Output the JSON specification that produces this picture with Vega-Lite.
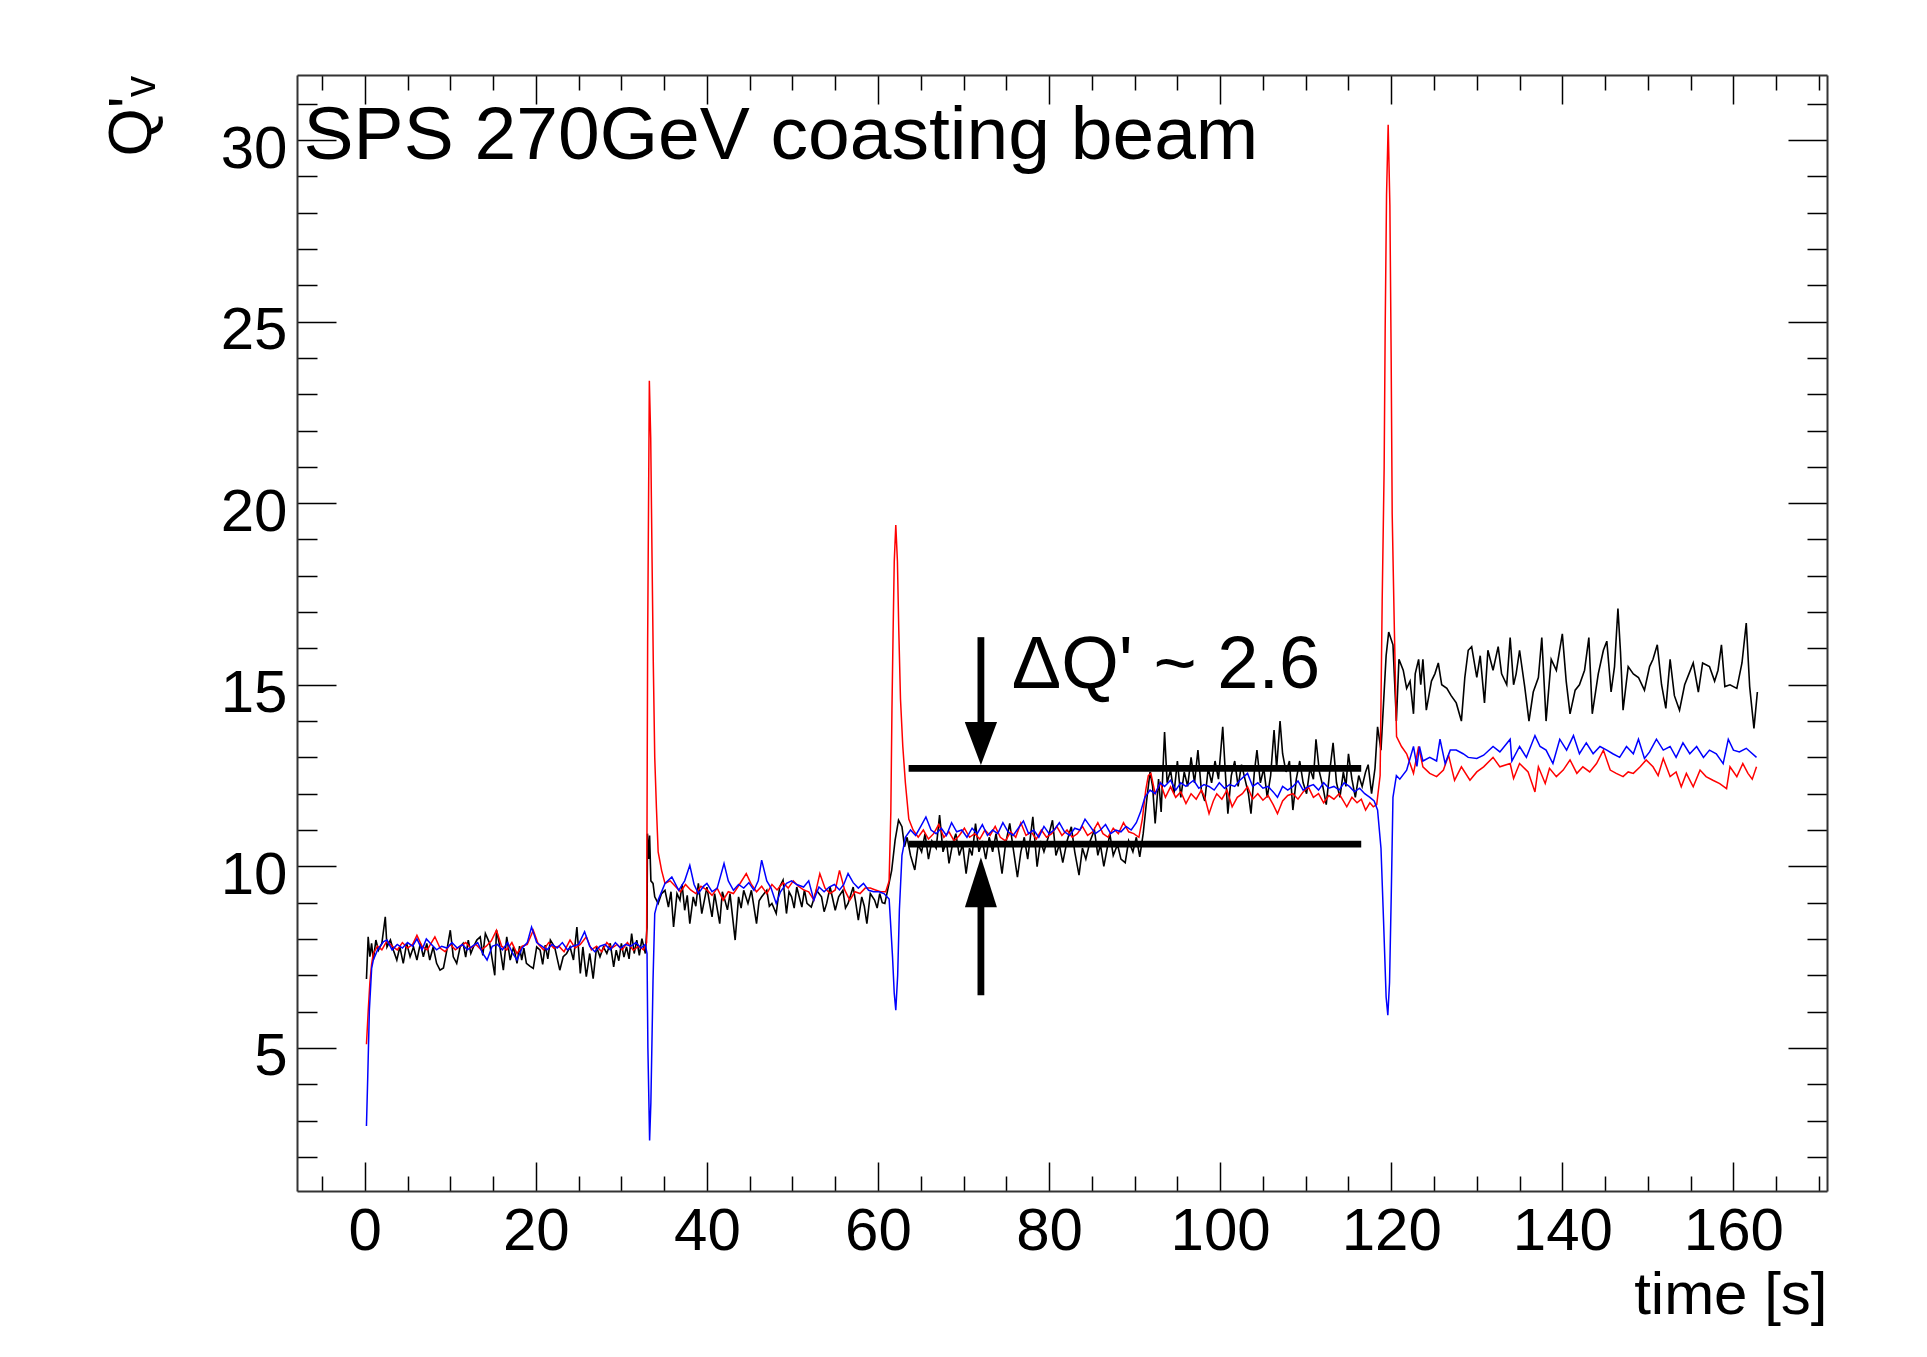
{
"$schema": "https://vega.github.io/schema/vega-lite/v6.json",
"width": 1530, "height": 1116,
"autosize": {"type": "none"},
"padding": {"left": 297, "top": 75, "right": 100, "bottom": 166},
"background": "white",
"config": {"view": {"stroke": null}, "font": "Liberation Sans"},
"datasets": {
"k": [{"t":0.2,"q":6.9},{"t":0.4,"q":8.06},{"t":0.6,"q":7.51},{"t":0.8,"q":7.88},{"t":1.0,"q":7.42},{"t":1.3,"q":7.97},{"t":1.6,"q":7.69},{"t":2.0,"q":7.88},{"t":2.4,"q":8.61},{"t":2.6,"q":7.78},{"t":3.0,"q":7.97},{"t":3.35,"q":7.69},{"t":3.75,"q":7.42},{"t":4.1,"q":7.78},{"t":4.5,"q":7.33},{"t":4.9,"q":7.88},{"t":5.3,"q":7.51},{"t":5.7,"q":7.78},{"t":6.1,"q":7.42},{"t":6.5,"q":7.88},{"t":6.85,"q":7.51},{"t":7.25,"q":7.88},{"t":7.6,"q":7.42},{"t":8.0,"q":7.78},{"t":8.4,"q":7.33},{"t":8.8,"q":7.14},{"t":9.2,"q":7.2},{"t":9.6,"q":7.69},{"t":10.0,"q":8.24},{"t":10.35,"q":7.51},{"t":10.75,"q":7.33},{"t":11.15,"q":7.78},{"t":11.5,"q":7.88},{"t":11.8,"q":7.5},{"t":12.1,"q":7.97},{"t":12.4,"q":7.6},{"t":12.7,"q":7.78},{"t":13.1,"q":7.97},{"t":13.5,"q":8.06},{"t":13.8,"q":7.55},{"t":14.1,"q":8.15},{"t":14.6,"q":7.88},{"t":15.2,"q":7.0},{"t":15.4,"q":8.24},{"t":15.8,"q":7.78},{"t":16.2,"q":7.14},{"t":16.6,"q":8.06},{"t":17.0,"q":7.42},{"t":17.4,"q":7.78},{"t":17.8,"q":7.33},{"t":18.1,"q":7.8},{"t":18.35,"q":7.42},{"t":18.6,"q":7.75},{"t":18.9,"q":7.33},{"t":19.3,"q":7.25},{"t":19.7,"q":7.19},{"t":20.1,"q":7.78},{"t":20.5,"q":7.69},{"t":20.8,"q":7.3},{"t":21.1,"q":7.83},{"t":21.4,"q":7.45},{"t":21.7,"q":7.97},{"t":22.2,"q":7.78},{"t":22.8,"q":7.14},{"t":23.2,"q":7.51},{"t":23.6,"q":7.6},{"t":24.0,"q":7.78},{"t":24.4,"q":7.42},{"t":24.8,"q":8.33},{"t":25.2,"q":7.05},{"t":25.5,"q":7.78},{"t":25.9,"q":6.96},{"t":26.3,"q":7.6},{"t":26.7,"q":6.91},{"t":27.1,"q":7.78},{"t":27.5,"q":7.51},{"t":27.9,"q":7.78},{"t":28.3,"q":7.6},{"t":28.7,"q":7.88},{"t":29.1,"q":7.23},{"t":29.4,"q":7.69},{"t":29.7,"q":7.4},{"t":30.0,"q":7.88},{"t":30.3,"q":7.5},{"t":30.6,"q":7.78},{"t":30.9,"q":7.45},{"t":31.2,"q":8.15},{"t":31.5,"q":7.6},{"t":31.8,"q":7.97},{"t":32.1,"q":7.55},{"t":32.4,"q":8.01},{"t":32.8,"q":7.6},{"t":33.0,"q":8.33},{"t":33.05,"q":10.9},{"t":33.2,"q":10.2},{"t":33.3,"q":10.85},{"t":33.45,"q":9.6},{"t":33.7,"q":9.53},{"t":33.9,"q":9.16},{"t":34.3,"q":8.98},{"t":34.7,"q":9.25},{"t":35.1,"q":9.34},{"t":35.5,"q":8.88},{"t":35.8,"q":9.3},{"t":36.1,"q":8.33},{"t":36.5,"q":9.25},{"t":36.85,"q":9.07},{"t":37.1,"q":9.5},{"t":37.4,"q":8.79},{"t":37.7,"q":9.2},{"t":38.0,"q":8.42},{"t":38.4,"q":9.16},{"t":38.7,"q":8.9},{"t":39.0,"q":9.53},{"t":39.4,"q":8.7},{"t":40.0,"q":9.43},{"t":40.3,"q":9.0},{"t":40.6,"q":8.61},{"t":40.9,"q":9.25},{"t":41.5,"q":8.42},{"t":41.8,"q":9.3},{"t":42.1,"q":9.07},{"t":42.4,"q":8.8},{"t":42.7,"q":9.25},{"t":43.3,"q":7.97},{"t":43.7,"q":9.16},{"t":44.0,"q":8.85},{"t":44.3,"q":9.34},{"t":44.8,"q":8.98},{"t":45.2,"q":9.34},{"t":45.8,"q":8.42},{"t":46.1,"q":9.05},{"t":46.4,"q":9.16},{"t":47.0,"q":9.34},{"t":47.3,"q":8.9},{"t":47.6,"q":8.98},{"t":48.1,"q":8.7},{"t":48.5,"q":9.43},{"t":48.9,"q":9.62},{"t":49.3,"q":8.7},{"t":49.6,"q":9.3},{"t":49.9,"q":9.16},{"t":50.2,"q":8.85},{"t":50.5,"q":9.43},{"t":51.1,"q":8.88},{"t":51.4,"q":9.35},{"t":51.7,"q":8.98},{"t":52.2,"q":8.88},{"t":52.5,"q":9.1},{"t":52.8,"q":9.34},{"t":53.4,"q":9.16},{"t":53.7,"q":8.75},{"t":54.0,"q":8.98},{"t":54.4,"q":9.43},{"t":55.0,"q":8.79},{"t":55.4,"q":9.16},{"t":55.9,"q":9.34},{"t":56.2,"q":8.85},{"t":56.5,"q":8.98},{"t":57.1,"q":9.43},{"t":57.4,"q":9.0},{"t":57.7,"q":8.52},{"t":58.1,"q":9.16},{"t":58.4,"q":8.9},{"t":58.7,"q":8.42},{"t":59.1,"q":9.25},{"t":59.6,"q":9.07},{"t":59.9,"q":8.85},{"t":60.2,"q":9.25},{"t":60.5,"q":9.0},{"t":60.8,"q":8.98},{"t":61.2,"q":9.43},{"t":61.6,"q":9.89},{"t":62.0,"q":10.72},{"t":62.4,"q":11.27},{"t":62.8,"q":11.09},{"t":63.1,"q":10.54},{"t":63.4,"q":10.8},{"t":63.8,"q":10.3},{"t":64.3,"q":9.9},{"t":64.7,"q":10.6},{"t":65.1,"q":10.4},{"t":65.5,"q":10.9},{"t":65.9,"q":10.2},{"t":66.3,"q":10.7},{"t":66.8,"q":10.5},{"t":67.2,"q":11.41},{"t":67.6,"q":10.4},{"t":68.0,"q":10.7},{"t":68.3,"q":10.08},{"t":68.7,"q":10.6},{"t":69.1,"q":10.9},{"t":69.5,"q":10.3},{"t":69.9,"q":10.6},{"t":70.3,"q":9.8},{"t":70.7,"q":10.5},{"t":71.0,"q":10.3},{"t":71.4,"q":11.18},{"t":71.8,"q":10.4},{"t":72.2,"q":10.7},{"t":72.6,"q":10.2},{"t":73.0,"q":10.8},{"t":73.4,"q":10.4},{"t":73.8,"q":10.9},{"t":74.2,"q":10.3},{"t":74.5,"q":9.8},{"t":74.9,"q":10.6},{"t":75.4,"q":11.18},{"t":75.8,"q":10.5},{"t":76.3,"q":9.7},{"t":76.7,"q":10.4},{"t":77.1,"q":10.8},{"t":77.5,"q":10.2},{"t":78.1,"q":11.36},{"t":78.6,"q":9.99},{"t":79.0,"q":10.7},{"t":79.4,"q":10.4},{"t":79.9,"q":10.8},{"t":80.4,"q":11.27},{"t":80.8,"q":10.3},{"t":81.2,"q":10.6},{"t":81.6,"q":10.1},{"t":82.1,"q":10.7},{"t":82.6,"q":11.09},{"t":83.0,"q":10.4},{"t":83.5,"q":9.76},{"t":83.9,"q":10.5},{"t":84.3,"q":10.2},{"t":84.8,"q":10.7},{"t":85.3,"q":11.0},{"t":85.7,"q":10.3},{"t":86.0,"q":10.6},{"t":86.4,"q":10.0},{"t":86.8,"q":10.5},{"t":87.1,"q":10.9},{"t":87.5,"q":10.3},{"t":88.0,"q":10.6},{"t":88.4,"q":10.2},{"t":88.9,"q":10.1},{"t":89.3,"q":10.7},{"t":89.8,"q":10.4},{"t":90.2,"q":10.8},{"t":90.6,"q":10.26},{"t":91.0,"q":10.9},{"t":91.4,"q":11.8},{"t":91.8,"q":12.6},{"t":92.1,"q":12.2},{"t":92.4,"q":11.18},{"t":92.8,"q":12.4},{"t":93.1,"q":11.5},{"t":93.5,"q":13.7},{"t":93.8,"q":12.3},{"t":94.2,"q":12.65},{"t":94.6,"q":12.0},{"t":95.0,"q":12.9},{"t":95.4,"q":11.9},{"t":95.8,"q":12.6},{"t":96.2,"q":12.2},{"t":96.6,"q":13.0},{"t":97.0,"q":12.3},{"t":97.4,"q":13.2},{"t":97.8,"q":12.1},{"t":98.2,"q":11.8},{"t":98.6,"q":12.7},{"t":99.0,"q":12.3},{"t":99.4,"q":12.9},{"t":99.8,"q":12.4},{"t":100.3,"q":13.84},{"t":100.6,"q":12.6},{"t":100.9,"q":11.45},{"t":101.3,"q":12.5},{"t":101.7,"q":12.9},{"t":102.1,"q":12.2},{"t":102.5,"q":12.8},{"t":102.9,"q":12.4},{"t":103.3,"q":12.0},{"t":103.6,"q":11.45},{"t":104.0,"q":12.6},{"t":104.3,"q":13.2},{"t":104.7,"q":12.3},{"t":105.1,"q":12.7},{"t":105.5,"q":11.9},{"t":105.9,"q":12.5},{"t":106.3,"q":13.75},{"t":106.6,"q":12.7},{"t":107.0,"q":14.0},{"t":107.3,"q":13.1},{"t":107.7,"q":12.6},{"t":108.1,"q":12.9},{"t":108.5,"q":11.55},{"t":108.9,"q":12.4},{"t":109.3,"q":12.9},{"t":109.7,"q":12.3},{"t":110.1,"q":12.0},{"t":110.5,"q":12.7},{"t":110.9,"q":12.4},{"t":111.2,"q":13.5},{"t":111.6,"q":12.6},{"t":112.0,"q":12.2},{"t":112.4,"q":11.7},{"t":112.8,"q":12.6},{"t":113.2,"q":13.4},{"t":113.6,"q":12.3},{"t":114.0,"q":11.9},{"t":114.4,"q":12.6},{"t":114.7,"q":12.2},{"t":115.0,"q":13.1},{"t":115.4,"q":12.4},{"t":115.8,"q":11.9},{"t":116.2,"q":12.5},{"t":116.6,"q":12.2},{"t":117.0,"q":12.6},{"t":117.3,"q":12.8},{"t":117.7,"q":12.0},{"t":118.1,"q":12.7},{"t":118.4,"q":13.84},{"t":118.8,"q":13.2},{"t":119.1,"q":14.5},{"t":119.4,"q":15.8},{"t":119.7,"q":16.45},{"t":120.2,"q":16.1},{"t":120.6,"q":14.0},{"t":120.9,"q":15.7},{"t":121.4,"q":15.4},{"t":121.8,"q":14.9},{"t":122.2,"q":15.1},{"t":122.6,"q":14.2},{"t":122.8,"q":15.3},{"t":123.2,"q":15.7},{"t":123.45,"q":15.0},{"t":123.7,"q":15.7},{"t":124.1,"q":14.3},{"t":124.7,"q":15.1},{"t":125.1,"q":15.3},{"t":125.5,"q":15.6},{"t":125.9,"q":15.0},{"t":126.5,"q":14.9},{"t":127.0,"q":14.7},{"t":127.6,"q":14.5},{"t":128.2,"q":14.0},{"t":128.6,"q":15.2},{"t":129.0,"q":15.95},{"t":129.4,"q":16.05},{"t":130.0,"q":15.2},{"t":130.4,"q":15.8},{"t":130.9,"q":14.5},{"t":131.3,"q":15.95},{"t":131.9,"q":15.4},{"t":132.5,"q":16.05},{"t":132.9,"q":15.3},{"t":133.5,"q":15.0},{"t":133.9,"q":16.3},{"t":134.3,"q":15.0},{"t":134.6,"q":15.3},{"t":135.0,"q":15.95},{"t":135.6,"q":14.95},{"t":136.1,"q":14.0},{"t":136.6,"q":14.8},{"t":137.2,"q":15.2},{"t":137.6,"q":16.3},{"t":138.1,"q":14.0},{"t":138.7,"q":15.7},{"t":139.3,"q":15.4},{"t":140.0,"q":16.4},{"t":140.45,"q":15.1},{"t":140.9,"q":14.2},{"t":141.5,"q":14.85},{"t":142.0,"q":15.0},{"t":142.6,"q":15.4},{"t":143.1,"q":16.3},{"t":143.5,"q":14.2},{"t":144.2,"q":15.3},{"t":144.8,"q":15.95},{"t":145.2,"q":16.2},{"t":145.7,"q":14.8},{"t":146.1,"q":15.5},{"t":146.5,"q":17.1},{"t":146.8,"q":15.9},{"t":147.1,"q":14.3},{"t":147.7,"q":15.5},{"t":148.3,"q":15.3},{"t":148.9,"q":15.2},{"t":149.6,"q":14.85},{"t":150.2,"q":15.5},{"t":150.6,"q":15.7},{"t":151.1,"q":16.1},{"t":151.6,"q":15.0},{"t":152.1,"q":14.35},{"t":152.6,"q":15.7},{"t":153.1,"q":14.7},{"t":153.7,"q":14.3},{"t":154.3,"q":15.0},{"t":154.8,"q":15.3},{"t":155.3,"q":15.6},{"t":155.9,"q":14.8},{"t":156.4,"q":15.6},{"t":157.2,"q":15.5},{"t":157.8,"q":15.1},{"t":158.2,"q":15.4},{"t":158.6,"q":16.1},{"t":159.0,"q":14.95},{"t":159.6,"q":15.0},{"t":160.4,"q":14.9},{"t":161.0,"q":15.6},{"t":161.5,"q":16.7},{"t":161.9,"q":14.95},{"t":162.4,"q":13.8},{"t":162.8,"q":14.8}],
"r": [{"t":0.2,"q":5.1},{"t":0.4,"q":6.0},{"t":0.6,"q":6.8},{"t":0.8,"q":7.3},{"t":1.0,"q":7.6},{"t":1.5,"q":7.8},{"t":2.0,"q":7.7},{"t":2.6,"q":7.95},{"t":3.2,"q":7.8},{"t":3.8,"q":7.7},{"t":4.4,"q":7.9},{"t":5.0,"q":7.75},{"t":5.6,"q":7.85},{"t":6.1,"q":8.1},{"t":6.7,"q":7.8},{"t":7.3,"q":7.7},{"t":7.8,"q":7.9},{"t":8.2,"q":8.06},{"t":8.8,"q":7.75},{"t":9.4,"q":7.65},{"t":10.0,"q":7.85},{"t":10.6,"q":7.7},{"t":11.2,"q":7.8},{"t":11.8,"q":7.9},{"t":12.4,"q":7.75},{"t":13.0,"q":7.85},{"t":13.6,"q":7.7},{"t":14.2,"q":7.8},{"t":14.8,"q":7.95},{"t":15.4,"q":8.24},{"t":16.0,"q":7.8},{"t":16.6,"q":7.7},{"t":17.2,"q":7.9},{"t":17.8,"q":7.6},{"t":18.4,"q":7.8},{"t":19.0,"q":7.85},{"t":19.7,"q":8.24},{"t":20.3,"q":7.85},{"t":20.9,"q":7.7},{"t":21.5,"q":7.9},{"t":22.1,"q":7.75},{"t":22.7,"q":7.8},{"t":23.3,"q":7.65},{"t":24.0,"q":7.97},{"t":24.6,"q":7.75},{"t":25.2,"q":7.85},{"t":25.9,"q":8.06},{"t":26.5,"q":7.7},{"t":27.1,"q":7.8},{"t":27.7,"q":7.65},{"t":28.3,"q":7.9},{"t":28.9,"q":7.75},{"t":29.5,"q":7.85},{"t":30.1,"q":7.7},{"t":30.7,"q":7.9},{"t":31.4,"q":7.69},{"t":32.0,"q":7.8},{"t":32.6,"q":7.7},{"t":32.95,"q":7.9},{"t":33.07,"q":16.15},{"t":33.27,"q":23.37},{"t":33.43,"q":21.8},{"t":33.58,"q":18.57},{"t":33.73,"q":15.63},{"t":33.9,"q":13.0},{"t":34.1,"q":11.6},{"t":34.3,"q":10.4},{"t":34.7,"q":9.89},{"t":35.1,"q":9.53},{"t":35.7,"q":9.6},{"t":36.3,"q":9.45},{"t":36.9,"q":9.3},{"t":37.5,"q":9.5},{"t":38.1,"q":9.35},{"t":38.7,"q":9.25},{"t":39.3,"q":9.45},{"t":40.0,"q":9.35},{"t":40.6,"q":9.2},{"t":41.2,"q":9.4},{"t":41.9,"q":9.07},{"t":42.5,"q":9.3},{"t":43.1,"q":9.25},{"t":43.8,"q":9.5},{"t":44.6,"q":9.8},{"t":45.2,"q":9.5},{"t":45.8,"q":9.3},{"t":46.4,"q":9.45},{"t":47.0,"q":9.25},{"t":47.6,"q":9.5},{"t":48.2,"q":9.35},{"t":48.9,"q":9.55},{"t":49.5,"q":9.4},{"t":50.1,"q":9.6},{"t":50.7,"q":9.45},{"t":51.3,"q":9.35},{"t":51.9,"q":9.3},{"t":52.5,"q":9.07},{"t":53.2,"q":9.8},{"t":53.8,"q":9.4},{"t":54.4,"q":9.25},{"t":55.0,"q":9.35},{"t":55.5,"q":9.89},{"t":56.1,"q":9.35},{"t":56.7,"q":9.07},{"t":57.3,"q":9.3},{"t":57.9,"q":9.25},{"t":58.5,"q":9.4},{"t":59.1,"q":9.4},{"t":59.7,"q":9.35},{"t":60.3,"q":9.3},{"t":60.9,"q":9.3},{"t":61.3,"q":9.6},{"t":61.5,"q":11.5},{"t":61.63,"q":14.3},{"t":61.76,"q":16.37},{"t":61.9,"q":18.39},{"t":62.08,"q":19.4},{"t":62.27,"q":18.4},{"t":62.43,"q":16.5},{"t":62.63,"q":14.6},{"t":62.9,"q":13.3},{"t":63.2,"q":12.3},{"t":63.6,"q":11.3},{"t":64.1,"q":11.0},{"t":64.7,"q":10.8},{"t":65.3,"q":11.0},{"t":65.9,"q":10.75},{"t":66.5,"q":10.9},{"t":67.1,"q":11.15},{"t":67.7,"q":10.8},{"t":68.3,"q":10.95},{"t":68.9,"q":10.7},{"t":69.5,"q":10.85},{"t":70.1,"q":11.05},{"t":70.7,"q":10.8},{"t":71.3,"q":10.9},{"t":71.9,"q":10.75},{"t":72.5,"q":11.0},{"t":73.1,"q":10.85},{"t":73.7,"q":11.1},{"t":74.3,"q":10.8},{"t":74.9,"q":10.7},{"t":75.5,"q":10.95},{"t":76.1,"q":10.8},{"t":76.7,"q":11.2},{"t":77.3,"q":10.85},{"t":77.9,"q":10.95},{"t":78.5,"q":10.75},{"t":79.1,"q":11.0},{"t":79.7,"q":10.8},{"t":80.3,"q":10.9},{"t":80.9,"q":11.1},{"t":81.5,"q":10.85},{"t":82.1,"q":11.0},{"t":82.7,"q":10.8},{"t":83.3,"q":10.9},{"t":83.9,"q":11.1},{"t":84.5,"q":10.85},{"t":85.1,"q":10.95},{"t":85.7,"q":11.2},{"t":86.3,"q":10.9},{"t":86.9,"q":10.8},{"t":87.5,"q":11.05},{"t":88.1,"q":10.9},{"t":88.7,"q":11.2},{"t":89.3,"q":10.95},{"t":89.9,"q":10.9},{"t":90.5,"q":10.8},{"t":90.9,"q":11.3},{"t":91.3,"q":12.1},{"t":91.6,"q":12.5},{"t":91.9,"q":12.56},{"t":92.4,"q":12.0},{"t":93.0,"q":12.3},{"t":93.6,"q":11.9},{"t":94.2,"q":12.19},{"t":94.8,"q":11.9},{"t":95.4,"q":12.05},{"t":96.0,"q":11.73},{"t":96.6,"q":12.0},{"t":97.2,"q":11.85},{"t":97.8,"q":12.1},{"t":98.2,"q":11.9},{"t":98.7,"q":11.45},{"t":99.2,"q":11.8},{"t":99.6,"q":12.0},{"t":100.2,"q":11.85},{"t":100.8,"q":12.1},{"t":101.4,"q":11.64},{"t":102.0,"q":11.9},{"t":102.6,"q":12.0},{"t":103.2,"q":12.19},{"t":103.8,"q":11.85},{"t":104.4,"q":12.0},{"t":105.0,"q":11.82},{"t":105.6,"q":11.95},{"t":106.2,"q":11.7},{"t":106.7,"q":11.45},{"t":107.3,"q":11.8},{"t":107.9,"q":11.95},{"t":108.5,"q":12.0},{"t":109.1,"q":11.85},{"t":109.7,"q":12.05},{"t":110.3,"q":12.19},{"t":110.9,"q":11.9},{"t":111.5,"q":12.0},{"t":112.1,"q":11.75},{"t":112.7,"q":11.95},{"t":113.3,"q":11.85},{"t":113.9,"q":12.0},{"t":114.4,"q":11.8},{"t":114.8,"q":11.64},{"t":115.4,"q":11.9},{"t":116.0,"q":11.75},{"t":116.5,"q":11.85},{"t":117.0,"q":11.55},{"t":117.5,"q":11.75},{"t":117.9,"q":11.64},{"t":118.3,"q":11.7},{"t":118.7,"q":12.5},{"t":118.94,"q":17.3},{"t":119.17,"q":20.97},{"t":119.29,"q":24.8},{"t":119.45,"q":28.5},{"t":119.64,"q":30.42},{"t":119.84,"q":28.2},{"t":119.99,"q":24.0},{"t":120.11,"q":19.7},{"t":120.34,"q":16.8},{"t":120.62,"q":13.57},{"t":121.2,"q":13.3},{"t":121.8,"q":13.1},{"t":122.6,"q":12.56},{"t":123.2,"q":13.3},{"t":123.7,"q":12.74},{"t":124.5,"q":12.56},{"t":125.3,"q":12.47},{"t":126.1,"q":12.65},{"t":126.7,"q":13.06},{"t":127.4,"q":12.37},{"t":128.2,"q":12.74},{"t":129.2,"q":12.37},{"t":130.0,"q":12.6},{"t":130.8,"q":12.74},{"t":131.9,"q":13.0},{"t":132.7,"q":12.74},{"t":133.9,"q":12.83},{"t":134.3,"q":12.42},{"t":135.0,"q":12.83},{"t":136.0,"q":12.6},{"t":136.8,"q":12.05},{"t":137.2,"q":12.74},{"t":138.0,"q":12.28},{"t":138.5,"q":12.7},{"t":139.3,"q":12.47},{"t":140.1,"q":12.65},{"t":140.9,"q":12.93},{"t":141.7,"q":12.56},{"t":142.4,"q":12.74},{"t":143.2,"q":12.6},{"t":144.0,"q":12.83},{"t":144.8,"q":13.2},{"t":145.6,"q":12.65},{"t":146.3,"q":12.56},{"t":147.1,"q":12.47},{"t":147.7,"q":12.6},{"t":148.3,"q":12.56},{"t":149.1,"q":12.74},{"t":149.8,"q":12.93},{"t":150.6,"q":12.74},{"t":151.2,"q":12.5},{"t":151.8,"q":12.97},{"t":152.6,"q":12.47},{"t":153.3,"q":12.6},{"t":153.9,"q":12.19},{"t":154.5,"q":12.56},{"t":155.3,"q":12.19},{"t":156.1,"q":12.65},{"t":156.8,"q":12.47},{"t":157.6,"q":12.37},{"t":158.4,"q":12.28},{"t":159.2,"q":12.14},{"t":159.6,"q":12.74},{"t":160.4,"q":12.47},{"t":161.1,"q":12.83},{"t":161.7,"q":12.56},{"t":162.2,"q":12.4},{"t":162.7,"q":12.74}],
"b": [{"t":0.2,"q":2.85},{"t":0.35,"q":4.2},{"t":0.54,"q":6.04},{"t":0.81,"q":7.2},{"t":1.0,"q":7.42},{"t":1.5,"q":7.7},{"t":2.2,"q":7.93},{"t":2.6,"q":7.97},{"t":3.2,"q":7.7},{"t":3.8,"q":7.85},{"t":4.4,"q":7.75},{"t":5.0,"q":7.9},{"t":5.6,"q":7.8},{"t":6.1,"q":8.0},{"t":6.7,"q":7.7},{"t":7.2,"q":8.0},{"t":7.8,"q":7.85},{"t":8.4,"q":7.7},{"t":9.0,"q":7.8},{"t":9.6,"q":7.75},{"t":10.2,"q":7.9},{"t":10.8,"q":7.75},{"t":11.4,"q":7.85},{"t":12.0,"q":7.7},{"t":12.6,"q":7.8},{"t":13.2,"q":7.9},{"t":13.8,"q":7.6},{"t":14.3,"q":7.42},{"t":14.9,"q":7.8},{"t":15.5,"q":7.85},{"t":16.1,"q":7.7},{"t":16.7,"q":7.9},{"t":17.3,"q":7.6},{"t":17.8,"q":7.42},{"t":18.4,"q":7.75},{"t":19.0,"q":7.9},{"t":19.5,"q":8.33},{"t":20.1,"q":7.9},{"t":20.7,"q":7.8},{"t":21.3,"q":7.7},{"t":21.9,"q":7.85},{"t":22.5,"q":7.75},{"t":23.1,"q":7.9},{"t":23.7,"q":7.7},{"t":24.3,"q":7.8},{"t":25.0,"q":7.85},{"t":25.7,"q":8.2},{"t":26.3,"q":7.8},{"t":26.9,"q":7.65},{"t":27.5,"q":7.8},{"t":28.1,"q":7.85},{"t":28.7,"q":7.7},{"t":29.3,"q":7.9},{"t":29.9,"q":7.75},{"t":30.5,"q":7.85},{"t":31.1,"q":7.8},{"t":31.7,"q":7.9},{"t":32.3,"q":7.75},{"t":32.8,"q":7.85},{"t":33.0,"q":7.6},{"t":33.1,"q":5.0},{"t":33.3,"q":2.45},{"t":33.45,"q":3.5},{"t":33.6,"q":5.5},{"t":33.7,"q":6.86},{"t":33.9,"q":8.7},{"t":34.3,"q":9.07},{"t":35.1,"q":9.53},{"t":35.9,"q":9.71},{"t":36.7,"q":9.34},{"t":37.4,"q":9.6},{"t":38.0,"q":10.03},{"t":38.5,"q":9.5},{"t":39.0,"q":9.25},{"t":39.6,"q":9.45},{"t":40.0,"q":9.53},{"t":40.6,"q":9.3},{"t":41.2,"q":9.4},{"t":42.0,"q":10.08},{"t":42.5,"q":9.6},{"t":43.1,"q":9.34},{"t":43.7,"q":9.5},{"t":44.3,"q":9.4},{"t":44.9,"q":9.55},{"t":45.5,"q":9.34},{"t":46.0,"q":9.6},{"t":46.4,"q":10.17},{"t":47.0,"q":9.6},{"t":47.5,"q":9.4},{"t":48.1,"q":8.98},{"t":48.6,"q":9.3},{"t":49.3,"q":9.53},{"t":49.9,"q":9.6},{"t":50.5,"q":9.5},{"t":51.3,"q":9.43},{"t":51.9,"q":9.6},{"t":52.5,"q":9.07},{"t":53.1,"q":9.43},{"t":53.7,"q":9.3},{"t":54.3,"q":9.43},{"t":54.9,"q":9.5},{"t":55.5,"q":9.35},{"t":56.0,"q":9.5},{"t":56.5,"q":9.8},{"t":57.1,"q":9.55},{"t":57.7,"q":9.4},{"t":58.3,"q":9.53},{"t":58.9,"q":9.34},{"t":59.5,"q":9.3},{"t":60.1,"q":9.3},{"t":60.7,"q":9.25},{"t":61.3,"q":9.1},{"t":61.45,"q":8.52},{"t":61.7,"q":7.5},{"t":61.9,"q":6.5},{"t":62.08,"q":6.04},{"t":62.3,"q":7.0},{"t":62.5,"q":8.8},{"t":62.8,"q":10.3},{"t":63.2,"q":10.8},{"t":63.8,"q":11.0},{"t":64.4,"q":10.85},{"t":65.0,"q":11.1},{"t":65.6,"q":11.36},{"t":66.2,"q":11.0},{"t":66.8,"q":10.9},{"t":67.4,"q":11.05},{"t":68.0,"q":10.85},{"t":68.6,"q":11.2},{"t":69.2,"q":10.95},{"t":69.8,"q":11.0},{"t":70.4,"q":10.8},{"t":71.0,"q":11.05},{"t":71.6,"q":10.9},{"t":72.2,"q":11.15},{"t":72.8,"q":10.85},{"t":73.4,"q":11.0},{"t":74.0,"q":10.9},{"t":74.6,"q":11.2},{"t":75.2,"q":10.95},{"t":75.8,"q":10.85},{"t":76.4,"q":11.05},{"t":77.0,"q":11.25},{"t":77.6,"q":10.9},{"t":78.2,"q":11.0},{"t":78.8,"q":10.8},{"t":79.4,"q":11.1},{"t":80.0,"q":10.9},{"t":80.6,"q":11.0},{"t":81.2,"q":11.2},{"t":81.8,"q":10.95},{"t":82.4,"q":10.85},{"t":83.0,"q":11.05},{"t":83.6,"q":11.0},{"t":84.2,"q":11.3},{"t":84.8,"q":11.1},{"t":85.4,"q":10.9},{"t":86.0,"q":11.0},{"t":86.6,"q":11.15},{"t":87.2,"q":10.9},{"t":87.8,"q":11.0},{"t":88.4,"q":10.95},{"t":89.0,"q":11.1},{"t":89.6,"q":11.0},{"t":90.2,"q":11.2},{"t":90.7,"q":11.5},{"t":91.2,"q":11.9},{"t":91.8,"q":12.1},{"t":92.4,"q":12.0},{"t":93.0,"q":12.3},{"t":93.5,"q":12.2},{"t":94.2,"q":12.37},{"t":94.8,"q":12.1},{"t":95.4,"q":12.3},{"t":96.0,"q":12.2},{"t":96.9,"q":12.37},{"t":97.5,"q":12.15},{"t":98.1,"q":12.25},{"t":98.7,"q":12.2},{"t":99.3,"q":12.1},{"t":99.9,"q":12.3},{"t":100.5,"q":12.15},{"t":101.1,"q":12.25},{"t":101.7,"q":12.2},{"t":102.3,"q":12.37},{"t":103.2,"q":12.56},{"t":103.8,"q":12.2},{"t":104.4,"q":12.3},{"t":105.0,"q":12.15},{"t":105.6,"q":12.2},{"t":106.2,"q":12.05},{"t":106.7,"q":11.9},{"t":107.3,"q":12.2},{"t":107.9,"q":12.1},{"t":108.5,"q":12.2},{"t":109.1,"q":12.35},{"t":109.7,"q":12.1},{"t":110.3,"q":12.2},{"t":110.9,"q":12.25},{"t":111.5,"q":12.1},{"t":112.1,"q":12.3},{"t":112.7,"q":12.15},{"t":113.3,"q":12.2},{"t":113.9,"q":12.1},{"t":114.5,"q":12.3},{"t":115.1,"q":12.2},{"t":115.7,"q":12.05},{"t":116.3,"q":12.15},{"t":116.9,"q":12.0},{"t":117.5,"q":11.9},{"t":118.0,"q":11.8},{"t":118.4,"q":11.55},{"t":118.8,"q":10.5},{"t":119.1,"q":8.5},{"t":119.4,"q":6.4},{"t":119.6,"q":5.9},{"t":119.8,"q":6.8},{"t":120.0,"q":9.2},{"t":120.2,"q":11.9},{"t":120.6,"q":12.5},{"t":121.0,"q":12.4},{"t":121.8,"q":12.65},{"t":122.6,"q":13.3},{"t":123.0,"q":12.75},{"t":123.3,"q":13.3},{"t":123.7,"q":12.9},{"t":124.5,"q":13.0},{"t":125.3,"q":12.9},{"t":125.7,"q":13.5},{"t":126.3,"q":12.83},{"t":126.9,"q":13.2},{"t":127.6,"q":13.2},{"t":128.4,"q":13.1},{"t":129.0,"q":13.0},{"t":130.0,"q":12.97},{"t":130.8,"q":13.06},{"t":131.9,"q":13.3},{"t":132.7,"q":13.15},{"t":133.9,"q":13.5},{"t":134.1,"q":12.9},{"t":135.0,"q":13.3},{"t":135.8,"q":13.0},{"t":136.8,"q":13.6},{"t":137.4,"q":13.3},{"t":138.1,"q":13.2},{"t":138.9,"q":12.83},{"t":139.7,"q":13.5},{"t":140.5,"q":13.2},{"t":141.3,"q":13.6},{"t":142.0,"q":13.1},{"t":142.8,"q":13.4},{"t":143.6,"q":13.1},{"t":144.4,"q":13.3},{"t":145.2,"q":13.2},{"t":145.9,"q":13.1},{"t":146.7,"q":13.0},{"t":147.5,"q":13.3},{"t":148.3,"q":13.1},{"t":148.9,"q":13.5},{"t":149.6,"q":12.97},{"t":150.2,"q":13.15},{"t":151.0,"q":13.5},{"t":151.8,"q":13.2},{"t":152.6,"q":13.3},{"t":153.3,"q":13.0},{"t":154.1,"q":13.4},{"t":154.9,"q":13.1},{"t":155.7,"q":13.3},{"t":156.5,"q":13.0},{"t":157.2,"q":13.2},{"t":158.0,"q":13.1},{"t":158.8,"q":12.83},{"t":159.4,"q":13.5},{"t":160.0,"q":13.2},{"t":160.7,"q":13.15},{"t":161.5,"q":13.25},{"t":162.7,"q":13.0}],
"ann": [{"t":63.58,"t2":116.49,"q":12.7,"q2":12.7},{"t":63.58,"t2":116.49,"q":10.61,"q2":10.61},{"t":72.03,"t2":72.03,"q":16.31,"q2":13.9},{"t":72.03,"t2":72.03,"q":6.45,"q2":8.9}],
"hd": [{"d":"dn","t":72.03,"q":12.79},{"d":"up","t":72.03,"q":10.25}]
},
"layer": [
{"data": {"name": "k"}, "mark": {"type": "line", "color": "#000000", "strokeWidth": 1.6},
 "encoding": {
  "x": {"field": "t", "type": "quantitative", "scale": {"domain": [-7.92, 170.94], "nice": false, "zero": false},
   "axis": {"orient": "bottom", "values": [-5,0,5,10,15,20,25,30,35,40,45,50,55,60,65,70,75,80,85,90,95,100,105,110,115,120,125,130,135,140,145,150,155,160,165,170],
    "labelExpr": "datum.value % 20 === 0 ? datum.label : ''", "format": "d",
    "tickSize": {"condition": {"test": "datum.value % 20 === 0", "value": -29}, "value": -15},
    "labelPadding": 87, "labelBaseline": "alphabetic", "labelFontSize": 60, "labelFont": "Liberation Sans", "labelColor": "#000000", "labelFlush": false, "labelOverlap": false,
    "domainColor": "#333333", "domainWidth": 2, "tickColor": "#000000", "tickWidth": 1.5, "grid": false,
    "title": "time [s]", "titleX": 1530, "titleY": 122, "titleAlign": "right", "titleBaseline": "alphabetic", "titleFontSize": 60, "titleFontWeight": "normal", "titleFont": "Liberation Sans", "titleColor": "#000000"}},
  "y": {"field": "q", "type": "quantitative", "scale": {"domain": [1.06, 31.79], "nice": false, "zero": false},
   "axis": {"orient": "left", "values": [2,3,4,5,6,7,8,9,10,11,12,13,14,15,16,17,18,19,20,21,22,23,24,25,26,27,28,29,30,31],
    "labelExpr": "datum.value % 5 === 0 ? datum.label : ''", "format": "d",
    "tickSize": {"condition": {"test": "datum.value % 5 === 0", "value": -39}, "value": -20},
    "labelPadding": 49, "labelOffset": 9, "labelBaseline": "middle", "labelAlign": "right", "labelFontSize": 60, "labelFont": "Liberation Sans", "labelColor": "#000000", "labelFlush": false, "labelOverlap": false,
    "domainColor": "#333333", "domainWidth": 2, "tickColor": "#000000", "tickWidth": 1.5, "grid": false,
    "title": "Q'ᵥ", "titleX": -147, "titleY": 1, "titleAngle": -90, "titleAlign": "right", "titleBaseline": "alphabetic", "titleFontSize": 62, "titleFontWeight": "normal", "titleFont": "Liberation Sans", "titleColor": "#000000"}}
 }},
{"data": {"name": "r"}, "mark": {"type": "line", "color": "#ff0000", "strokeWidth": 1.5},
 "encoding": {
  "x": {"field": "t", "type": "quantitative", "scale": {"domain": [-7.92, 170.94], "nice": false, "zero": false},
   "axis": {"orient": "top", "values": [-5,0,5,10,15,20,25,30,35,40,45,50,55,60,65,70,75,80,85,90,95,100,105,110,115,120,125,130,135,140,145,150,155,160,165,170],
    "labels": false, "tickSize": {"condition": {"test": "datum.value % 20 === 0", "value": -29}, "value": -15},
    "domainColor": "#333333", "domainWidth": 2, "tickColor": "#000000", "tickWidth": 1.5, "grid": false, "title": null}},
  "y": {"field": "q", "type": "quantitative", "scale": {"domain": [1.06, 31.79], "nice": false, "zero": false},
   "axis": {"orient": "right", "values": [2,3,4,5,6,7,8,9,10,11,12,13,14,15,16,17,18,19,20,21,22,23,24,25,26,27,28,29,30,31],
    "labels": false, "tickSize": {"condition": {"test": "datum.value % 5 === 0", "value": -39}, "value": -20},
    "domainColor": "#333333", "domainWidth": 2, "tickColor": "#000000", "tickWidth": 1.5, "grid": false, "title": null}}
 }},
{"data": {"name": "b"}, "mark": {"type": "line", "color": "#0000ff", "strokeWidth": 1.5},
 "encoding": {
  "x": {"field": "t", "type": "quantitative", "scale": {"domain": [-7.92, 170.94], "nice": false, "zero": false}, "axis": null},
  "y": {"field": "q", "type": "quantitative", "scale": {"domain": [1.06, 31.79], "nice": false, "zero": false}, "axis": null}
 }},
{"data": {"name": "ann"}, "mark": {"type": "rule", "color": "#000000", "strokeWidth": 6.8},
 "encoding": {
  "x": {"field": "t", "type": "quantitative", "scale": {"domain": [-7.92, 170.94], "nice": false, "zero": false}, "axis": null},
  "x2": {"field": "t2"},
  "y": {"field": "q", "type": "quantitative", "scale": {"domain": [1.06, 31.79], "nice": false, "zero": false}, "axis": null},
  "y2": {"field": "q2"}
 }},
{"data": {"name": "hd"}, "transform": [{"filter": "datum.d === 'dn'"}],
 "mark": {"type": "point", "shape": "M0,0L-0.75,-2L0.75,-2Z", "size": 1849, "filled": true, "color": "#000000", "opacity": 1, "strokeWidth": 0},
 "encoding": {
  "x": {"field": "t", "type": "quantitative", "scale": {"domain": [-7.92, 170.94], "nice": false, "zero": false}, "axis": null},
  "y": {"field": "q", "type": "quantitative", "scale": {"domain": [1.06, 31.79], "nice": false, "zero": false}, "axis": null}
 }},
{"data": {"name": "hd"}, "transform": [{"filter": "datum.d === 'up'"}],
 "mark": {"type": "point", "shape": "M0,0L-0.64,2L0.64,2Z", "size": 2500, "filled": true, "color": "#000000", "opacity": 1, "strokeWidth": 0},
 "encoding": {
  "x": {"field": "t", "type": "quantitative", "scale": {"domain": [-7.92, 170.94], "nice": false, "zero": false}, "axis": null},
  "y": {"field": "q", "type": "quantitative", "scale": {"domain": [1.06, 31.79], "nice": false, "zero": false}, "axis": null}
 }},
{"data": {"values": [{"t": -7.15, "q": 29.48, "s": "SPS 270GeV coasting beam"}]},
 "mark": {"type": "text", "align": "left", "baseline": "alphabetic", "fontSize": 75, "font": "Liberation Sans", "color": "#000000"},
 "encoding": {
  "x": {"field": "t", "type": "quantitative", "scale": {"domain": [-7.92, 170.94], "nice": false, "zero": false}, "axis": null},
  "y": {"field": "q", "type": "quantitative", "scale": {"domain": [1.06, 31.79], "nice": false, "zero": false}, "axis": null},
  "text": {"field": "s"}
 }},
{"data": {"values": [{"t": 75.65, "q": 14.91, "s": "ΔQ' ~ 2.6"}]},
 "mark": {"type": "text", "align": "left", "baseline": "alphabetic", "fontSize": 74, "font": "Liberation Sans", "color": "#000000"},
 "encoding": {
  "x": {"field": "t", "type": "quantitative", "scale": {"domain": [-7.92, 170.94], "nice": false, "zero": false}, "axis": null},
  "y": {"field": "q", "type": "quantitative", "scale": {"domain": [1.06, 31.79], "nice": false, "zero": false}, "axis": null},
  "text": {"field": "s"}
 }}
],
"resolve": {"axis": {"x": "independent", "y": "independent"}}
}
